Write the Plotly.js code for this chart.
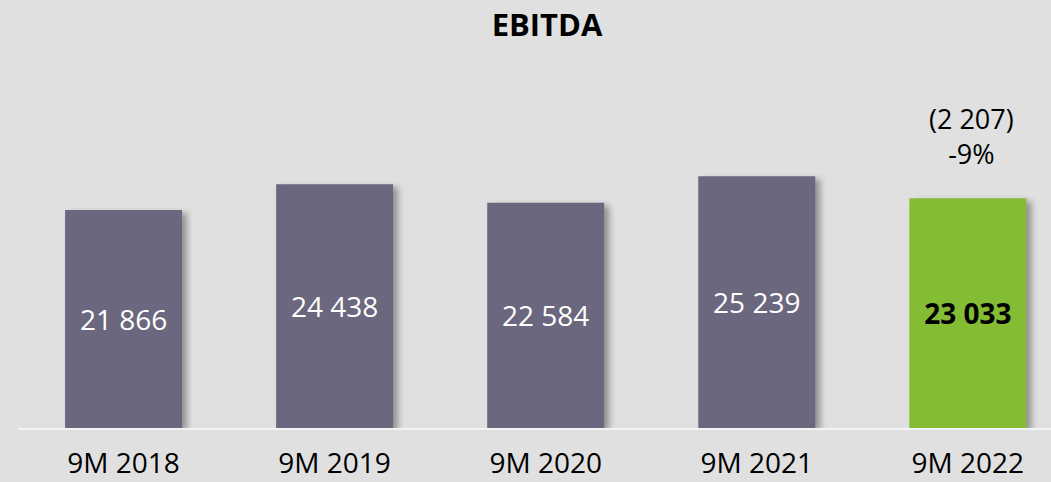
<!DOCTYPE html>
<html>
<head>
<meta charset="utf-8">
<script src="https://cdn.plot.ly/plotly-3.0.1.min.js"></script>
<style>
  html, body { margin: 0; padding: 0; background: #e0e0e0; }
  #chart { width: 1051px; height: 482px; }
  .js-plotly-plot .plotly .barlayer .point path {
    filter: drop-shadow(5px 3px 3px rgba(0,0,0,0.35));
  }
</style>
</head>
<body>
<div id="chart"></div>
<script>
const categories = ["9M 2018", "9M 2019", "9M 2020", "9M 2021", "9M 2022"];
const ebitda = [21866, 24438, 22584, 25239, 23033];
const changeAbs = "(2 207)";
const changePct = "-9%";
const chartTitle = "EBITDA";

const barColors = ["#6b677e", "#6b677e", "#6b677e", "#6b677e", "#84bc34"];
const textColors = ["#ffffff", "#ffffff", "#ffffff", "#ffffff", "#000000"];
const templates = categories.map((c, i) => i === categories.length - 1 ? "<b>%{y:,}</b>" : "%{y:,}");

const FONT = "'Open Sans', 'Noto Sans', sans-serif";

const trace = {
  type: "bar",
  x: categories,
  y: ebitda,
  width: 0.554,
  marker: { color: barColors, line: { width: 0 } },
  texttemplate: templates,
  textposition: "inside",
  insidetextanchor: "middle",
  textangle: 0,
  constraintext: "none",
  textfont: { family: FONT, size: 28, color: textColors },
  hoverinfo: "skip"
};

const last = categories.length - 1;

const layout = {
  width: 1051,
  height: 482,
  margin: { l: 18, r: 0, t: 0, b: 54 },
  paper_bgcolor: "#e0e0e0",
  plot_bgcolor: "#e0e0e0",
  separators: ", ",
  showlegend: false,
  title: {
    text: "<b>" + chartTitle + "</b>",
    font: { family: FONT, size: 31, color: "#000000" },
    x: 547 / 1051, xref: "container", xanchor: "center",
    y: 1 - 25 / 482, yref: "container", yanchor: "middle"
  },
  xaxis: {
    type: "category",
    range: [-0.5, 4.394],
    showgrid: false,
    zeroline: false,
    showline: true,
    linecolor: "#f3f3f3",
    linewidth: 2,
    ticks: "",
    ticklabelstandoff: 9,
    tickfont: { family: FONT, size: 28, color: "#000000" },
    fixedrange: true
  },
  yaxis: {
    range: [0, 42929],
    visible: false,
    showgrid: false,
    zeroline: false,
    fixedrange: true
  },
  annotations: [{
    x: categories[last],
    y: ebitda[last],
    xref: "x", yref: "y",
    text: changeAbs + "<br>" + changePct,
    showarrow: false,
    xanchor: "center",
    yanchor: "bottom",
    xshift: 4,
    yshift: 24,
    font: { family: FONT, size: 27, color: "#000000" }
  }]
};

Plotly.newPlot("chart", [trace], layout, { displayModeBar: false, staticPlot: true });
</script>
</body>
</html>
